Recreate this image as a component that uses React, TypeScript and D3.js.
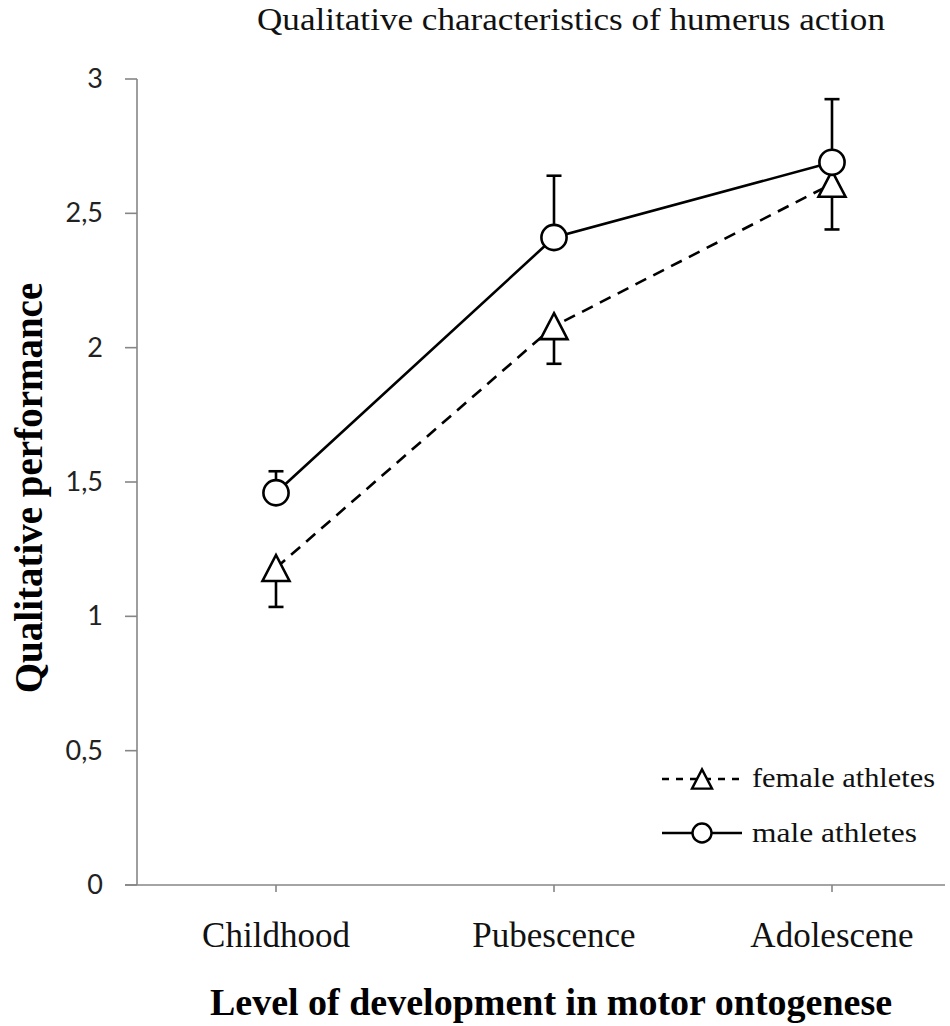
import * as d3 from "d3";

const categories = ["Childhood", "Pubescence", "Adolescene"];
const femaleMeans = [1.18, 2.08, 2.61];
const femaleSD = [0.145, 0.14, 0.17];
const maleMeans = [1.46, 2.41, 2.69];
const maleSD = [0.08, 0.23, 0.235];
const yTicks = [0, 0.5, 1, 1.5, 2, 2.5, 3];
const yTickLabels = ["0", "0,5", "1", "1,5", "2", "2,5", "3"];

const W = 950;
const H = 1026;
const serif = "'Liberation Serif', 'Times New Roman', serif";
const axisColor = "#868686";

const x = d3.scaleBand<string>().domain(categories).range([137, 971]);
const y = d3.scaleLinear().domain([0, 3]).range([885, 79]);
const cx = (c: string) => (x(c) ?? 0) + x.bandwidth() / 2;

type Pt = { c: string; v: number };
const line = d3
  .line<Pt>()
  .x((d) => cx(d.c))
  .y((d) => y(d.v));

const female: Pt[] = categories.map((c, i) => ({ c, v: femaleMeans[i] }));
const male: Pt[] = categories.map((c, i) => ({ c, v: maleMeans[i] }));

function tri(s: number) {
  const h = s * 0.96;
  return `M0,${-h / 2}L${s / 2},${h / 2}L${-s / 2},${h / 2}Z`;
}

export default function App() {
  const capW = 7.5;
  return (
    <svg
      width={W}
      height={H}
      style={{ position: "absolute", left: 0, top: 0, background: "#fff" }}
    >
      <text
        x={571}
        y={30}
        textAnchor="middle"
        fontFamily={serif}
        fontSize={31}
        textLength={628}
        lengthAdjust="spacingAndGlyphs"
        fill="#111"
      >
        Qualitative characteristics of humerus action
      </text>

      {/* axes */}
      <line x1={137} x2={137} y1={y(3)} y2={y(0)} stroke={axisColor} strokeWidth={1.6} />
      <line x1={125} x2={945} y1={y(0)} y2={y(0)} stroke={axisColor} strokeWidth={1.6} />
      {yTicks.map((t, i) => (
        <g key={t}>
          <line x1={125} x2={137} y1={y(t)} y2={y(t)} stroke={axisColor} strokeWidth={1.6} />
          <text
            x={103}
            y={y(t) + 9}
            textAnchor="end"
            fontFamily="Lato, 'Open Sans', sans-serif"
            fontSize={27}
            fill="#222"
          >
            {yTickLabels[i]}
          </text>
        </g>
      ))}
      {categories.map((c) => (
        <g key={c}>
          <line x1={cx(c)} x2={cx(c)} y1={y(0)} y2={y(0) + 7} stroke={axisColor} strokeWidth={1.6} />
          <text x={cx(c)} y={947} textAnchor="middle" fontFamily={serif} fontSize={35} fill="#111">
            {c}
          </text>
        </g>
      ))}

      <text
        transform={`translate(42,488) rotate(-90)`}
        textAnchor="middle"
        fontFamily={serif}
        fontWeight="bold"
        fontSize={39}
        fill="#000"
      >
        Qualitative performance
      </text>
      <text
        x={551}
        y={1015}
        textAnchor="middle"
        fontFamily={serif}
        fontWeight="bold"
        fontSize={38}
        fill="#000"
      >
        Level of development in motor ontogenese
      </text>

      {/* error bars */}
      {categories.map((c, i) => (
        <g key={"eb" + c} stroke="#000" strokeWidth={2.6}>
          <line x1={cx(c)} x2={cx(c)} y1={y(maleMeans[i])} y2={y(maleMeans[i] + maleSD[i])} />
          <line
            x1={cx(c) - capW}
            x2={cx(c) + capW}
            y1={y(maleMeans[i] + maleSD[i])}
            y2={y(maleMeans[i] + maleSD[i])}
          />
          <line x1={cx(c)} x2={cx(c)} y1={y(femaleMeans[i])} y2={y(femaleMeans[i] - femaleSD[i])} />
          <line
            x1={cx(c) - capW}
            x2={cx(c) + capW}
            y1={y(femaleMeans[i] - femaleSD[i])}
            y2={y(femaleMeans[i] - femaleSD[i])}
          />
        </g>
      ))}

      {/* lines */}
      <path d={line(female) ?? ""} fill="none" stroke="#000" strokeWidth={2.6} strokeDasharray="12,8" />
      <path d={line(male) ?? ""} fill="none" stroke="#000" strokeWidth={2.6} />

      {/* markers */}
      {female.map((d) => (
        <path
          key={"f" + d.c}
          d={tri(27)}
          transform={`translate(${cx(d.c)},${y(d.v)})`}
          fill="#fff"
          stroke="#000"
          strokeWidth={2.6}
        />
      ))}
      {male.map((d) => (
        <circle key={"m" + d.c} cx={cx(d.c)} cy={y(d.v)} r={12.6} fill="#fff" stroke="#000" strokeWidth={2.6} />
      ))}

      {/* legend */}
      <g>
        <line x1={662} x2={742} y1={779} y2={779} stroke="#000" strokeWidth={2.4} strokeDasharray="7,7" />
        <path d={tri(20)} transform="translate(702,779)" fill="#fff" stroke="#000" strokeWidth={2.4} />
        <text
          x={752}
          y={787}
          fontFamily={serif}
          fontSize={27}
          textLength={183}
          lengthAdjust="spacingAndGlyphs"
          fill="#111"
        >
          female athletes
        </text>
        <line x1={662} x2={742} y1={833} y2={833} stroke="#000" strokeWidth={2.4} />
        <circle cx={702} cy={833} r={9.5} fill="#fff" stroke="#000" strokeWidth={2.4} />
        <text
          x={752}
          y={842}
          fontFamily={serif}
          fontSize={27}
          textLength={165}
          lengthAdjust="spacingAndGlyphs"
          fill="#111"
        >
          male athletes
        </text>
      </g>
    </svg>
  );
}
